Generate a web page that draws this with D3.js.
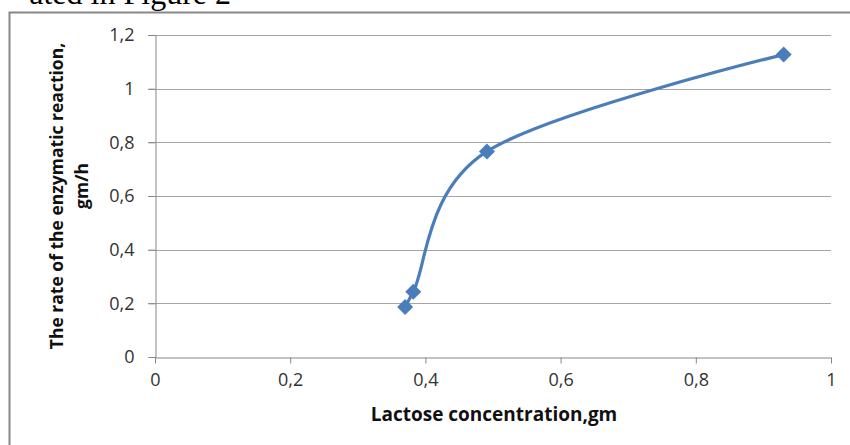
<!DOCTYPE html>
<html>
<head>
<meta charset="utf-8">
<script src="https://cdn.jsdelivr.net/npm/d3@7"></script>
<style>
  html, body { margin: 0; padding: 0; background: #fff; }
  svg { display: block; }
</style>
</head>
<body>
<svg id="chart" width="850" height="445"></svg>
<script>
// Lactose concentration (gm) vs. rate of the enzymatic reaction (gm/h)
const lactose = [0.37, 0.382, 0.491, 0.93];
const rate = [0.186, 0.243, 0.766, 1.127];
const xTicks = [0, 0.2, 0.4, 0.6, 0.8, 1];
const yTicks = [0, 0.2, 0.4, 0.6, 0.8, 1, 1.2];
const fmt = v => String(v).replace(".", ",");

const svg = d3.select("#chart");
const plot = { left: 155, right: 831, top: 35, bottom: 357 };

const x = d3.scaleLinear().domain([0, 1]).range([plot.left, plot.right]);
const y = d3.scaleLinear().domain([0, 1.2]).range([plot.bottom, plot.top]);

// Caption text of the surrounding document, clipped at the top edge
svg.append("text")
  .attr("x", 231).attr("y", 3.5)
  .attr("text-anchor", "end")
  .attr("font-family", "Liberation Serif, Times New Roman, serif")
  .attr("font-size", 32)
  .attr("fill", "#000")
  .text("ated in Figure 2");

// Chart frame
svg.append("rect")
  .attr("x", 9.5).attr("y", 12.5)
  .attr("width", 860).attr("height", 460)
  .attr("fill", "none")
  .attr("stroke", "#878787")
  .attr("stroke-width", 2);

const tickFont = "'Open Sans', 'DejaVu Sans', sans-serif";

// Horizontal gridlines with short left ticks
svg.append("g")
  .selectAll("line")
  .data(yTicks.filter(d => d > 0))
  .join("line")
  .attr("x1", plot.left - 7).attr("x2", plot.right)
  .attr("y1", d => Math.round(y(d)) + 0.5).attr("y2", d => Math.round(y(d)) + 0.5)
  .attr("stroke", "#a6a6a6").attr("stroke-width", 1);

// Y axis
const yAxis = d3.axisLeft(y).tickValues(yTicks).tickFormat(fmt).tickSize(7).tickPadding(14);
const gy = svg.append("g").attr("transform", `translate(${plot.left + 0.5},0)`).call(yAxis);
gy.select(".domain").attr("stroke", "#868686");
gy.selectAll(".tick line").attr("stroke", "#868686");
gy.selectAll(".tick text")
  .attr("font-family", tickFont).attr("font-size", 18).attr("fill", "#333");

// X axis
const xAxis = d3.axisBottom(x).tickValues(xTicks).tickFormat(fmt).tickSize(6).tickPadding(10).tickSizeOuter(0);
const gx = svg.append("g").attr("transform", `translate(0,${plot.bottom + 0.5})`).call(xAxis);
gx.select(".domain").attr("stroke", "#868686");
gx.selectAll(".tick line").attr("stroke", "#868686");
gx.selectAll(".tick text")
  .attr("font-family", tickFont).attr("font-size", 18).attr("fill", "#333");

// Axis titles
svg.append("text")
  .attr("x", 494).attr("y", 421)
  .attr("text-anchor", "middle")
  .attr("font-family", tickFont).attr("font-size", 19).attr("font-weight", "bold")
  .attr("fill", "#111")
  .text("Lactose concentration,gm");

const yTitle = svg.append("g")
  .attr("font-family", tickFont).attr("font-size", 17.5).attr("font-weight", "bold")
  .attr("fill", "#111").attr("text-anchor", "middle");
yTitle.append("text")
  .attr("transform", "translate(63,196) rotate(-90)")
  .text("The rate of the enzymatic reaction,");
yTitle.append("text")
  .attr("transform", "translate(88,186) rotate(-90)")
  .text("gm/h");

// Smoothed series line
const pts = lactose.map((v, i) => [v, rate[i]]);
const line = d3.line()
  .x(d => x(d[0])).y(d => y(d[1]))
  .curve(d3.curveCatmullRom.alpha(0));
svg.append("path")
  .datum(pts)
  .attr("d", line)
  .attr("fill", "none")
  .attr("stroke", "#4a7ebb")
  .attr("stroke-width", 3.2)
  .attr("stroke-linecap", "round");

// Diamond markers
const r = 8;
svg.append("g")
  .selectAll("path")
  .data(pts)
  .join("path")
  .attr("transform", d => `translate(${x(d[0])},${y(d[1])})`)
  .attr("d", `M0,${-r}L${r},0L0,${r}L${-r},0Z`)
  .attr("fill", "#4a7ebb");
</script>
</body>
</html>
